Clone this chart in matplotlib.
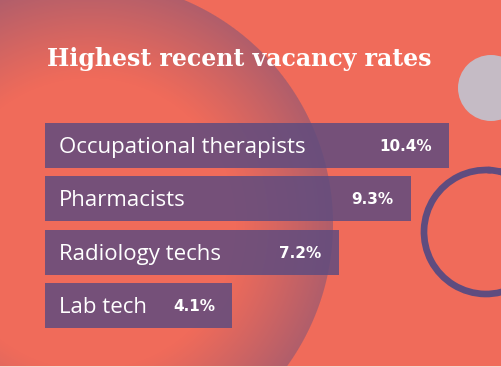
import numpy as np
import matplotlib
matplotlib.use('Agg')
import matplotlib.pyplot as plt
from matplotlib.patches import Circle, Arc, Rectangle

# data
categories = ['Occupational therapists', 'Pharmacists', 'Radiology techs', 'Lab tech']
rates = [10.4, 9.3, 7.2, 4.1]
value_labels = ['10.4%', '9.3%', '7.2%', '4.1%']
title = 'Highest recent vacancy rates'

W, H = 501, 367
DPI = 100
coral = np.array([240, 107, 90]) / 255
mauve = np.array([176, 94, 107]) / 255
purple = '#5f4c7f'

fig = plt.figure(figsize=(W / DPI, H / DPI), dpi=DPI)
fig.patch.set_facecolor(coral)

########################################
# background decorations, in pixel coordinates

bg = fig.add_axes([0, 0, 1, 1], zorder=0)
bg.set_xlim(0, W)
bg.set_ylim(H, 0)
bg.axis('off')

# big circle with radial fade from coral to mauve at the rim
cx, cy, r = 90, 224, 243
yy, xx = np.mgrid[0:H, 0:W] + 0.5
d = np.hypot(xx - cx, yy - cy)
t = np.clip((d / r - 0.6) / 0.4, 0, 1) ** 1.1
rgb = coral[None, None, :] * (1 - t[..., None]) + mauve[None, None, :] * t[..., None]
alpha = np.clip(r - d + 0.5, 0, 1)
img = np.dstack([rgb, alpha])
bg.imshow(img, extent=(0, W, H, 0), interpolation='nearest', zorder=1)

# grey disc at top right
bg.add_patch(Circle((491, 88), 33, color='#c5bbc5', lw=0, zorder=2))

# open ring at right
ring = dict(color=purple, lw=4.8, capstyle='round', zorder=2)
bg.add_patch(Arc((486, 232), 124, 124, theta1=-88, theta2=30, **ring))
bg.add_patch(Arc((486, 232), 124, 124, theta1=30, theta2=274, **ring))
bg.add_patch(Arc((486, 232), 124, 124, theta1=283, theta2=300, **ring))

# thin light strip at the bottom edge
bg.add_patch(Rectangle((0, 365.5), W, 2, color='#f7d3cc', lw=0, zorder=3))

bg.text(47, 66, title, color='white', fontsize=17, fontweight='bold',
        family='DejaVu Serif', ha='left', va='baseline', zorder=4)

########################################
# bars (the design uses a non-zero baseline, so the axis starts below 0)

px_per_unit = 34.35
x0 = -1.35
left_px = 45
top_px, pitch = 118.8, 53.33
ax = fig.add_axes([left_px / W, 1 - (top_px + 4 * pitch) / H,
                   (W - left_px) / W, 4 * pitch / H], zorder=2)
ax.patch.set_alpha(0)
ax.set_xlim(x0, x0 + (W - left_px) / px_per_unit)
ax.set_ylim(3.5, -0.5)
ax.axis('off')

y = np.arange(len(categories))
ax.barh(y, np.array(rates) - x0, left=x0, height=45 / pitch, color=purple,
        alpha=0.85, lw=0)

px = 72 / DPI  # points per pixel
for i, (cat, v, lab) in enumerate(zip(categories, rates, value_labels)):
    ax.annotate(cat, xy=(x0, i), xytext=(14 * px, -7.5 * px), textcoords='offset points',
                ha='left', va='baseline', color='white', fontsize=16,
                family='Open Sans')
    ax.annotate(lab, xy=(v, i), xytext=(-17 * px, -5.5 * px), textcoords='offset points',
                ha='right', va='baseline', color='white', fontsize=11,
                fontweight='bold', family='DejaVu Sans')

fig.savefig('out.png', dpi=DPI, facecolor=fig.get_facecolor())
